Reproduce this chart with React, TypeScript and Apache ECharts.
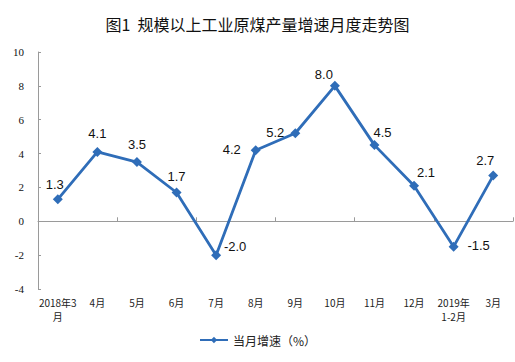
import React, { useEffect, useRef } from "react";
import * as echarts from "echarts";

const title = "图1  规模以上工业原煤产量增速月度走势图";
const categories = ["2018年3\n月", "4月", "5月", "6月", "7月", "8月", "9月", "10月", "11月", "12月", "2019年\n1-2月", "3月"];
const seriesName = "当月增速（%）";
const growth = [1.3, 4.1, 3.5, 1.7, -2.0, 4.2, 5.2, 8.0, 4.5, 2.1, -1.5, 2.7];
const yTicks = { min: -4, max: 10, interval: 2 };
// label offsets (styling only) relative to each marker centre
const labelOffsets: [number, number][] = [
  [-3, -15], [0, -18], [0, -18], [0, -16], [19, -9], [-24, -1],
  [-20, -1], [-11, -11], [8, -13], [12, -13], [25, -1], [-8, -15],
];

const LINE_COLOR = "#2f6db8";
const AXIS_COLOR = "#9a9a9a";

export default function App() {
  const ref = useRef<HTMLDivElement>(null);
  useEffect(() => {
    document.body.style.margin = "0";
    const chart = echarts.init(ref.current!, null, { renderer: "svg" });
    chart.setOption({
      animation: false,
      backgroundColor: "#ffffff",
      title: {
        text: title,
        left: "center",
        top: 11,
        textStyle: {
          fontFamily: "Noto Sans CJK SC",
          fontSize: 16,
          fontWeight: "normal",
          color: "#111",
        },
      },
      legend: {
        data: [seriesName],
        left: "center",
        top: 329,
        itemWidth: 28,
        itemHeight: 8,
        textStyle: { fontFamily: "Noto Sans CJK SC", fontSize: 12, color: "#222" },
      },
      grid: { left: 38, right: 2, top: 52, bottom: 73 },
      xAxis: [
        {
          type: "category",
          data: categories,
          position: "bottom",
          boundaryGap: true,
          axisLine: { show: false, onZero: false },
          axisTick: { show: false },
          axisLabel: {
            interval: 0,
            margin: 6,
            fontFamily: "Noto Sans CJK SC",
            fontSize: 10,
            lineHeight: 14,
            color: "#222",
          },
        },
        {
          type: "category",
          data: categories,
          position: "top",
          boundaryGap: true,
          axisLine: { show: true, onZero: true, lineStyle: { color: AXIS_COLOR, width: 1 } },
          axisTick: { show: true, inside: false, length: 4, lineStyle: { color: AXIS_COLOR } },
          axisLabel: { show: false },
          splitLine: { show: false },
        },
      ],
      yAxis: {
        type: "value",
        min: yTicks.min,
        max: yTicks.max,
        interval: yTicks.interval,
        axisLine: { show: true, lineStyle: { color: AXIS_COLOR, width: 1 } },
        axisTick: { show: true, inside: true, length: 3, lineStyle: { color: AXIS_COLOR } },
        splitLine: { show: false },
        axisLabel: {
          margin: 14,
          fontFamily: "Liberation Serif",
          fontSize: 11,
          color: "#111",
        },
      },
      series: [
        {
          name: seriesName,
          type: "line",
          xAxisIndex: 0,
          data: growth.map((v, i) => ({
            value: v,
            label: { offset: labelOffsets[i] },
          })),
          symbol: "diamond",
          symbolSize: 10,
          itemStyle: { color: LINE_COLOR },
          lineStyle: { color: LINE_COLOR, width: 2.8 },
          label: {
            show: true,
            position: "inside",
            formatter: (p: any) => Number(p.value).toFixed(1),
            fontFamily: "Liberation Sans",
            fontSize: 13,
            color: "#111",
          },
        },
      ],
    });
    return () => chart.dispose();
  }, []);
  return <div ref={ref} style={{ width: 515, height: 362 }} />;
}
